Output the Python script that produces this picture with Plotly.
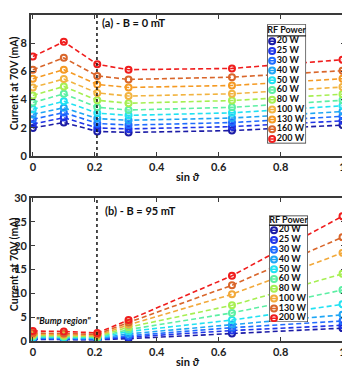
import plotly.graph_objects as go

sin_theta = [0, 0.1, 0.208, 0.309, 0.643, 1.0]
bump_edge = 0.207

powers_a = ['20 W', '25 W', '30 W', '40 W', '50 W', '60 W', '80 W', '100 W', '130 W', '160 W', '200 W']
current_a = [
    [1.99, 2.37, 1.74, 1.67, 1.80, 2.19],
    [2.26, 2.72, 1.99, 1.92, 2.08, 2.49],
    [2.60, 3.08, 2.31, 2.19, 2.37, 2.81],
    [2.95, 3.42, 2.65, 2.53, 2.69, 3.15],
    [3.31, 3.88, 3.04, 2.88, 3.06, 3.56],
    [3.79, 4.41, 3.45, 3.26, 3.45, 3.95],
    [4.29, 4.93, 3.95, 3.74, 3.93, 4.38],
    [4.86, 5.46, 4.47, 4.25, 4.41, 4.89],
    [5.48, 6.12, 5.07, 4.86, 5.00, 5.48],
    [6.12, 6.96, 5.68, 5.43, 5.59, 6.05],
    [7.05, 8.10, 6.50, 6.12, 6.21, 6.83],
]
colors_a = ['#1c1ca6', '#1f35e8', '#1f6cff', '#1fa6f5', '#22e2f2', '#5cefa4',
            '#a6ef52', '#f2b441', '#f59a23', '#d9662b', '#f01d1d']

powers_b = ['20 W', '25 W', '30 W', '40 W', '50 W', '60 W', '80 W', '100 W', '130 W', '200 W']
current_b = [
    [0.35, 0.30, 0.25, 0.50, 1.60, 2.70],
    [0.45, 0.40, 0.30, 0.80, 2.20, 3.30],
    [0.55, 0.50, 0.40, 1.10, 2.80, 4.20],
    [0.70, 0.65, 0.50, 1.50, 3.45, 5.50],
    [0.85, 0.80, 0.65, 2.00, 4.40, 7.70],
    [1.00, 0.95, 0.80, 2.40, 5.90, 10.70],
    [1.20, 1.10, 0.95, 2.90, 7.50, 14.10],
    [1.40, 1.35, 1.15, 3.40, 9.80, 18.50],
    [1.70, 1.60, 1.40, 3.90, 11.70, 21.80],
    [2.10, 2.00, 1.70, 4.40, 13.70, 26.20],
]
colors_b = ['#1c1ca6', '#1f35e8', '#1f6cff', '#1fa6f5', '#22e2f2', '#5cefa4',
            '#a6ef52', '#f2a93b', '#d9662b', '#f01d1d']

FONT = 'Lato'
AX = '#3a3a3a'
INK = '#111111'

fig = go.Figure()


def add_panel(currents, colors, xa, ya):
    for vals, col in zip(currents, colors):
        fig.add_trace(go.Scatter(
            x=sin_theta, y=vals, mode='lines+markers', xaxis=xa, yaxis=ya,
            line=dict(color=col, width=1.6, dash='5px,3px'),
            marker=dict(symbol='circle-open', size=6, color=col, line=dict(width=2, color=col)),
            showlegend=False, hoverinfo='skip'))


def add_legend(powers, colors, xa, ya, h, title_y, line_y, first_y):
    # home-made legend box (plotly legend rows are too tall here)
    fig.add_trace(go.Scatter(
        x=[0, 39, 39, 0, 0], y=[0, 0, h, h, 0], xaxis=xa, yaxis=ya, mode='lines',
        fill='toself', fillcolor='white', line=dict(color='#222222', width=1.3),
        showlegend=False, hoverinfo='skip'))
    fig.add_trace(go.Scatter(
        x=[0, 39], y=[line_y, line_y], xaxis=xa, yaxis=ya, mode='lines',
        line=dict(color='#222222', width=1.3), showlegend=False, hoverinfo='skip'))
    fig.add_trace(go.Scatter(
        x=[19.5], y=[title_y], xaxis=xa, yaxis=ya, mode='text', text=['RF Power'],
        textfont=dict(family=FONT, size=9, color=INK, weight='bold'),
        showlegend=False, hoverinfo='skip'))
    ys = [first_y + 10 * i for i in range(len(powers))]
    for yv, col in zip(ys, colors):
        fig.add_trace(go.Scatter(
            x=[2.2, 7.8], y=[yv, yv], xaxis=xa, yaxis=ya, mode='lines',
            line=dict(color=col, width=1.5), showlegend=False, hoverinfo='skip'))
    fig.add_trace(go.Scatter(
        x=[5] * len(powers), y=ys, xaxis=xa, yaxis=ya, mode='markers+text',
        text=powers, textposition='middle right',
        textfont=dict(family=FONT, size=9, color=INK, weight='bold'),
        marker=dict(symbol='circle-open', size=6, color=colors, line=dict(width=2, color=colors)),
        showlegend=False, hoverinfo='skip'))


add_panel(current_a, colors_a, 'x', 'y')
add_panel(current_b, colors_b, 'x2', 'y2')
add_legend(powers_a, colors_a, 'x3', 'y3', 122, 7, 12, 17.4)
add_legend(powers_b, colors_b, 'x4', 'y4', 109, 5, 10, 15)

tickfont = dict(family=FONT, size=11, color='#222222', weight='bold')
xcommon = dict(range=[-0.006, 1.008], tickvals=[0, 0.2, 0.4, 0.6, 0.8, 1],
               ticktext=['0', '0.2', '0.4', '0.6', '0.8', '1'],
               ticks='inside', ticklen=4, tickwidth=1.3, tickcolor=AX,
               showline=True, linecolor=AX, linewidth=1.6, mirror='ticks',
               showgrid=False, zeroline=False, tickfont=tickfont)
ycommon = dict(ticks='inside', ticklen=4, tickwidth=1.3, tickcolor=AX,
               showline=True, linecolor=AX, linewidth=1.6, mirror='ticks',
               showgrid=False, zeroline=False, tickfont=tickfont)
hidden = dict(visible=False, showgrid=False, zeroline=False, fixedrange=True)


def label(text, xref, yref, x, y, size=11, angle=0, xanchor='center'):
    return dict(text=text, xref=xref, yref=yref, x=x, y=y, textangle=angle,
                xanchor=xanchor, yanchor='middle', showarrow=False,
                font=dict(family=FONT, size=size, color=INK, weight='bold'))


fig.update_layout(
    width=342, height=365,
    margin=dict(l=23, r=5, t=0, b=32),
    paper_bgcolor='white', plot_bgcolor='white',
    font=dict(family=FONT, color='#222222'),
    xaxis=dict(xcommon, anchor='y'),
    yaxis=dict(ycommon, domain=[0.5676, 1], range=[0, 10], tickvals=[0, 2, 4, 6, 8, 10]),
    xaxis2=dict(xcommon, anchor='y2'),
    yaxis2=dict(ycommon, domain=[0, 0.4384], range=[0, 30], tickvals=[0, 5, 10, 15, 20, 25, 30]),
    xaxis3=dict(hidden, domain=[0.752, 0.876], range=[0, 39], anchor='y3'),
    yaxis3=dict(hidden, domain=[0.606, 0.972], range=[122, 0], anchor='x3'),
    xaxis4=dict(hidden, domain=[0.758, 0.882], range=[0, 39], anchor='y4'),
    yaxis4=dict(hidden, domain=[0.058, 0.385], range=[109, 0], anchor='x4'),
    shapes=[
        dict(type='line', xref='x', yref='y domain', x0=bump_edge, x1=bump_edge, y0=0, y1=1,
             line=dict(color=INK, width=1.5, dash='dot')),
        dict(type='line', xref='x2', yref='y2 domain', x0=bump_edge, x1=bump_edge, y0=0, y1=1,
             line=dict(color=INK, width=1.5, dash='dot')),
    ],
    annotations=[
        label('(a) - B = 0 mT', 'x', 'y domain', 0.218, 0.944, xanchor='left'),
        label('(b) - B = 95 mT', 'x2', 'y2 domain', 0.228, 0.911, xanchor='left'),
        label('<i>"Bump region"</i>', 'x2', 'y2', 0.1, 4.3, size=9),
        label('sin <i>ϑ</i>', 'x domain', 'y domain', 0.5, -0.145),
        label('sin <i>ϑ</i>', 'x2 domain', 'y2 domain', 0.5, -0.142),
        label('Current at 70V (mA)', 'paper', 'y domain', -0.054, 0.517, size=10.5, angle=-90),
        label('Current at 70V (mA)', 'paper', 'y2 domain', -0.054, 0.538, size=10.5, angle=-90),
    ],
)

fig.write_html("out.html")
